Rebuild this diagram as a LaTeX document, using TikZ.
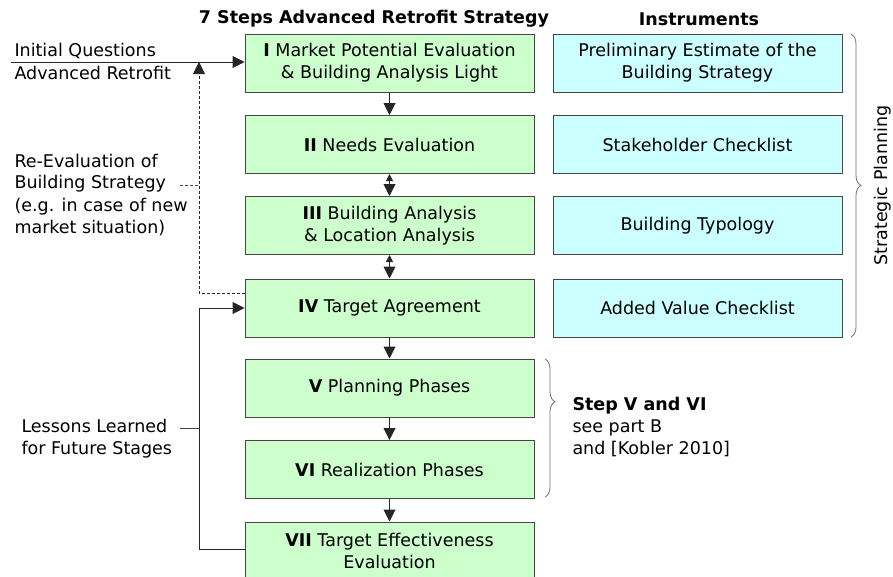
\documentclass[tikz,border=0pt]{standalone}
\usepackage{fontspec}
\setmainfont{DejaVu Sans}
\usetikzlibrary{arrows.meta,decorations.pathreplacing}

\definecolor{stepgreen}{RGB}{204,255,204}
\definecolor{instcyan}{RGB}{204,255,255}
\definecolor{linegray}{RGB}{70,70,70}
\definecolor{bracegray}{RGB}{110,110,110}
\newcommand{\boxfont}{\fontsize{17.5}{22}\selectfont}

\begin{document}
\begin{tikzpicture}[x=1pt,y=-1pt,font=\boxfont,line width=1pt,
    stepbox/.style={draw=linegray,fill=stepgreen,minimum width=289pt,minimum height=58pt,align=center,inner sep=0pt},
    instbox/.style={draw=linegray,fill=instcyan,minimum width=289pt,minimum height=58pt,align=center,inner sep=0pt},
    headtext/.style={font=\boxfont\bfseries,inner sep=0pt},
    sidetext/.style={anchor=west,align=left,inner sep=0pt},
    tip/.style={draw=black!85,-{Triangle[length=12pt,width=12pt]}},
    dtip/.style={draw=black!85,{Triangle[length=7pt,width=7pt]}-{Triangle[length=12pt,width=12pt]}},
    fine/.style={draw=linegray,dash pattern=on 3pt off 2pt},
    curly/.style={draw=bracegray,line width=0.8pt,decorate,decoration={brace,amplitude=10pt}}]
    \useasboundingbox (0,0) rectangle (893,576);
    % headings
    \node[headtext] (hsteps) at (374,19) {7 Steps Advanced Retrofit Strategy};
    \node[headtext] (hinst) at (699,19) {Instruments};
    % the seven steps
    \node[stepbox] (s1) at (389.5,63) {\textbf{I} Market Potential Evaluation\\\& Building Analysis Light};
    \node[stepbox] (s2) at (389.5,144.5) {\textbf{II} Needs Evaluation};
    \node[stepbox] (s3) at (389.5,225.5) {\textbf{III} Building Analysis\\\& Location Analysis};
    \node[stepbox] (s4) at (389.5,308) {\textbf{IV} Target Agreement};
    \node[stepbox] (s5) at (389.5,388) {\textbf{V} Planning Phases};
    \node[stepbox] (s6) at (389.5,469.5) {\textbf{VI} Realization Phases};
    \node[stepbox] (s7) at (389.5,551) {\textbf{VII} Target Effectiveness\\Evaluation};
    % instruments
    \node[instbox] (i1) at (697.5,63) {Preliminary Estimate of the\\Building Strategy};
    \node[instbox] (i2) at (697.5,144.5) {Stakeholder Checklist};
    \node[instbox] (i3) at (697.5,225.5) {Building Typology};
    \node[instbox] (i4) at (697.5,308) {Added Value Checklist};
    \draw[tip] (s1) -- (s2);
    \draw[dtip] (s2) -- (s3);
    \draw[dtip] (s3) -- (s4);
    \draw[tip] (s4) -- (s5);
    \draw[tip] (s5) -- (s6);
    \draw[tip] (s6) -- (s7);
    % left side
    \node[sidetext] (iq) at (14,51) {Initial Questions};
    \node[sidetext] (ar) at (14,73) {Advanced Retrofit};
    \coordinate (qin) at (11,62);
    \draw[tip] (qin) -- (qin -| s1.west);
    \coordinate (loop) at (199,0);
    \node[sidetext] (reeval) at (14,194.5) {Re-Evaluation of\\Building Strategy\\(e.g. in case of new\\market situation)};
    \coordinate (rstub) at (180,185);
    \draw[fine] (rstub) -- (loop |- rstub);
    \draw[fine,tip] ([yshift=15pt]s4.west) -| (loop |- qin);
    \node[sidetext] (lessons) at (21,438.5) {Lessons Learned\\for Future Stages};
    \coordinate (lstub) at (180,428);
    \draw[linegray] (lstub) -- (loop |- lstub);
    \draw[tip] ([yshift=2pt]s7.west) -| (loop |- s4.west) -- (s4.west);
    % braces
    \draw[curly] (851,34) -- (851,337);
    \node[rotate=90,inner sep=0pt] (strat) at (883,185.5) {Strategic Planning};
    \draw[curly,decoration={aspect=0.31}] (545,359) -- (545,497);
    \node[sidetext] (stepvvi) at (572,427) {\textbf{Step V and VI}\\see part B\\and [Kobler 2010]};
\end{tikzpicture}
\end{document}
